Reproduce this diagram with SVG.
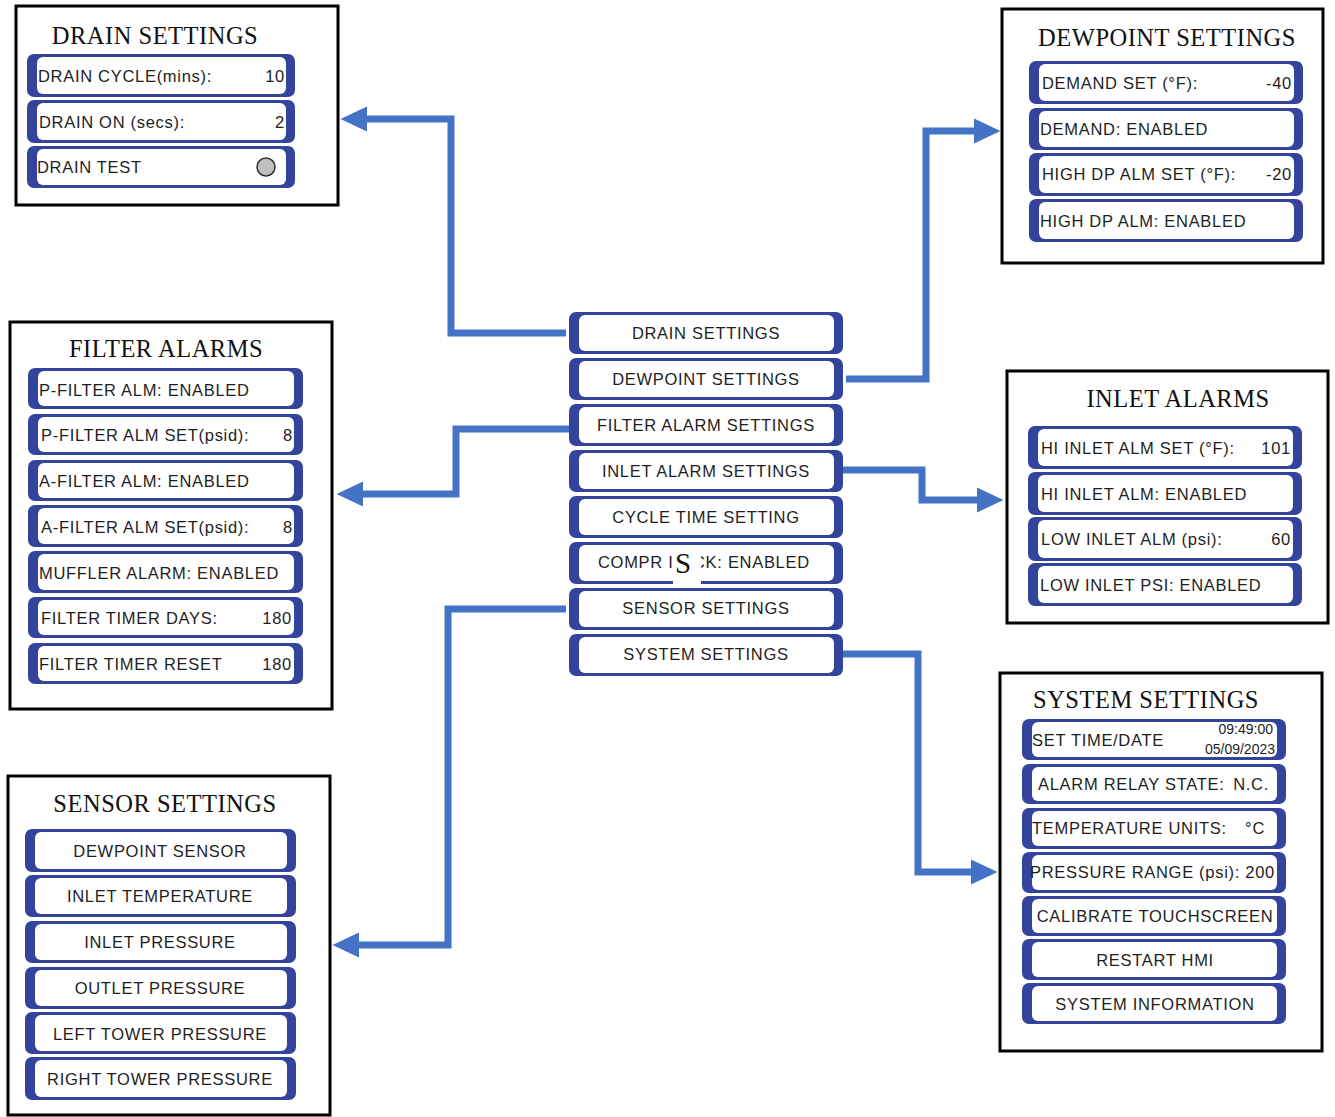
<svg xmlns="http://www.w3.org/2000/svg" width="1335" height="1117" viewBox="0 0 1335 1117">
<style>
.panel{fill:#fff;stroke:#000;stroke-width:3}
.bo{fill:#34449c}
.bi{fill:#fff}
.t{font-family:"Liberation Sans",Arial,sans-serif;font-size:16.5px;fill:#1e1e1e;letter-spacing:0.7px}
.c{text-anchor:middle}
.e{text-anchor:end}
.h{font-family:"Liberation Serif","Times New Roman",serif;font-size:24.5px;fill:#111;text-anchor:middle;letter-spacing:0.5px}
.conn{fill:none;stroke:#4472c4;stroke-width:7;stroke-linejoin:miter}
</style>
<defs>
<marker id="ah" viewBox="0 -13 27 26" refX="0" refY="0" markerWidth="27" markerHeight="26" markerUnits="userSpaceOnUse" orient="auto">
<path d="M0,-12.5 L26.5,0 L0,12.5 Z" fill="#4472c4"/>
</marker>
</defs>
<rect width="1335" height="1117" fill="#fff"/>

<g id="connectors">
<polyline class="conn" points="566,333 451,333 451,119 367,119" marker-end="url(#ah)"/>
<polyline class="conn" points="846,379 926,379 926,131 974,131" marker-end="url(#ah)"/>
<polyline class="conn" points="571,429 456,429 456,494 363,494" marker-end="url(#ah)"/>
<polyline class="conn" points="842,470 922,470 922,500 977,500" marker-end="url(#ah)"/>
<polyline class="conn" points="566,609 448,609 448,945 359,945" marker-end="url(#ah)"/>
<polyline class="conn" points="842,654 918,654 918,872 971,872" marker-end="url(#ah)"/>
</g>

<g id="drain-settings">
<rect class="panel" x="16" y="6" width="322" height="199"/>
<text class="h" x="155" y="44">DRAIN SETTINGS</text>
<rect class="bo" x="27" y="54" width="268" height="43" rx="7"/><rect class="bi" x="37" y="57" width="249" height="37" rx="6"/>
<text class="t" x="38" y="82">DRAIN CYCLE(mins):</text><text class="t e" x="285" y="82">10</text>
<rect class="bo" x="27" y="100" width="268" height="43" rx="7"/><rect class="bi" x="37" y="103" width="249" height="37" rx="6"/>
<text class="t" x="39" y="128">DRAIN ON (secs):</text><text class="t e" x="285" y="128">2</text>
<rect class="bo" x="27" y="146" width="268" height="42" rx="7"/><rect class="bi" x="37" y="149" width="249" height="36" rx="6"/>
<text class="t" x="37" y="173">DRAIN TEST</text>
<circle cx="266" cy="167" r="9" fill="#c0c0c0" stroke="#333" stroke-width="1.5"/>
</g>

<g id="dewpoint-settings">
<rect class="panel" x="1002" y="9" width="321" height="254"/>
<text class="h" x="1167" y="46">DEWPOINT SETTINGS</text>
<rect class="bo" x="1029" y="61" width="274" height="43" rx="7"/><rect class="bi" x="1039" y="64" width="255" height="37" rx="6"/>
<text class="t" x="1042" y="89">DEMAND SET (°F):</text><text class="t e" x="1292" y="89">-40</text>
<rect class="bo" x="1029" y="108" width="274" height="42" rx="7"/><rect class="bi" x="1039" y="111" width="255" height="36" rx="6"/>
<text class="t" x="1040" y="135">DEMAND: ENABLED</text>
<rect class="bo" x="1029" y="153" width="274" height="43" rx="7"/><rect class="bi" x="1039" y="156" width="255" height="37" rx="6"/>
<text class="t" x="1042" y="180">HIGH DP ALM SET (°F):</text><text class="t e" x="1292" y="180">-20</text>
<rect class="bo" x="1029" y="199" width="274" height="43" rx="7"/><rect class="bi" x="1039" y="202" width="255" height="37" rx="6"/>
<text class="t" x="1040" y="227">HIGH DP ALM: ENABLED</text>
</g>

<g id="main-menu">
<rect class="bo" x="569" y="312" width="274" height="42" rx="7"/><rect class="bi" x="579" y="315" width="255" height="36" rx="6"/>
<text class="t c" x="706" y="339">DRAIN SETTINGS</text>
<rect class="bo" x="569" y="358" width="274" height="42" rx="7"/><rect class="bi" x="579" y="361" width="255" height="36" rx="6"/>
<text class="t c" x="706" y="385">DEWPOINT SETTINGS</text>
<rect class="bo" x="569" y="404" width="274" height="42" rx="7"/><rect class="bi" x="579" y="407" width="255" height="36" rx="6"/>
<text class="t c" x="706" y="431">FILTER ALARM SETTINGS</text>
<rect class="bo" x="569" y="450" width="274" height="42" rx="7"/><rect class="bi" x="579" y="453" width="255" height="36" rx="6"/>
<text class="t c" x="706" y="477">INLET ALARM SETTINGS</text>
<rect class="bo" x="569" y="496" width="274" height="42" rx="7"/><rect class="bi" x="579" y="499" width="255" height="36" rx="6"/>
<text class="t c" x="706" y="523">CYCLE TIME SETTING</text>
<rect class="bo" x="569" y="542" width="274" height="42" rx="7"/><rect class="bi" x="579" y="545" width="255" height="36" rx="6"/>
<text class="t" x="598" y="568">COMPR I</text>
<text class="t" x="693" y="568">CK: ENABLED</text>
<rect x="673" y="548" width="28" height="37" fill="#fff"/>
<text x="683" y="573" font-family="'Liberation Serif','Times New Roman',serif" font-size="29px" fill="#111" text-anchor="middle">S</text>
<rect class="bo" x="569" y="588" width="274" height="42" rx="7"/><rect class="bi" x="579" y="591" width="255" height="36" rx="6"/>
<text class="t c" x="706" y="614">SENSOR SETTINGS</text>
<rect class="bo" x="569" y="634" width="274" height="42" rx="7"/><rect class="bi" x="579" y="637" width="255" height="36" rx="6"/>
<text class="t c" x="706" y="660">SYSTEM SETTINGS</text>
</g>

<g id="filter-alarms">
<rect class="panel" x="10" y="322" width="322" height="387"/>
<text class="h" x="166" y="357">FILTER ALARMS</text>
<rect class="bo" x="28" y="368" width="275" height="41" rx="7"/><rect class="bi" x="38" y="371" width="256" height="35" rx="6"/>
<text class="t" x="39" y="396">P-FILTER ALM: ENABLED</text>
<rect class="bo" x="28" y="414" width="275" height="41" rx="7"/><rect class="bi" x="38" y="417" width="256" height="35" rx="6"/>
<text class="t" x="41" y="441">P-FILTER ALM SET(psid):</text><text class="t e" x="293" y="441">8</text>
<rect class="bo" x="28" y="460" width="275" height="41" rx="7"/><rect class="bi" x="38" y="463" width="256" height="35" rx="6"/>
<text class="t" x="39" y="487">A-FILTER ALM: ENABLED</text>
<rect class="bo" x="28" y="505" width="275" height="42" rx="7"/><rect class="bi" x="38" y="508" width="256" height="36" rx="6"/>
<text class="t" x="41" y="533">A-FILTER ALM SET(psid):</text><text class="t e" x="293" y="533">8</text>
<rect class="bo" x="28" y="551" width="275" height="42" rx="7"/><rect class="bi" x="38" y="554" width="256" height="36" rx="6"/>
<text class="t" x="39" y="579">MUFFLER ALARM: ENABLED</text>
<rect class="bo" x="28" y="597" width="275" height="41" rx="7"/><rect class="bi" x="38" y="600" width="256" height="35" rx="6"/>
<text class="t" x="41" y="624">FILTER TIMER DAYS:</text><text class="t e" x="292" y="624">180</text>
<rect class="bo" x="28" y="643" width="275" height="41" rx="7"/><rect class="bi" x="38" y="646" width="256" height="35" rx="6"/>
<text class="t" x="39" y="670">FILTER TIMER RESET</text><text class="t e" x="292" y="670">180</text>
</g>

<g id="inlet-alarms">
<rect class="panel" x="1007" y="371" width="321" height="252"/>
<text class="h" x="1178" y="407">INLET ALARMS</text>
<rect class="bo" x="1028" y="426" width="274" height="43" rx="7"/><rect class="bi" x="1038" y="429" width="255" height="37" rx="6"/>
<text class="t" x="1041" y="454">HI INLET ALM SET (°F):</text><text class="t e" x="1291" y="454">101</text>
<rect class="bo" x="1028" y="472" width="274" height="43" rx="7"/><rect class="bi" x="1038" y="475" width="255" height="37" rx="6"/>
<text class="t" x="1041" y="500">HI INLET ALM: ENABLED</text>
<rect class="bo" x="1028" y="517" width="274" height="44" rx="7"/><rect class="bi" x="1038" y="520" width="255" height="38" rx="6"/>
<text class="t" x="1041" y="545">LOW INLET ALM (psi):</text><text class="t e" x="1291" y="545">60</text>
<rect class="bo" x="1028" y="563" width="274" height="43" rx="7"/><rect class="bi" x="1038" y="566" width="255" height="37" rx="6"/>
<text class="t" x="1040" y="591">LOW INLET PSI: ENABLED</text>
</g>

<g id="sensor-settings">
<rect class="panel" x="8" y="776" width="322" height="339"/>
<text class="h" x="165" y="812">SENSOR SETTINGS</text>
<rect class="bo" x="25" y="829" width="271" height="43" rx="7"/><rect class="bi" x="35" y="832" width="252" height="37" rx="6"/>
<text class="t c" x="160" y="857">DEWPOINT SENSOR</text>
<rect class="bo" x="25" y="875" width="271" height="42" rx="7"/><rect class="bi" x="35" y="878" width="252" height="36" rx="6"/>
<text class="t c" x="160" y="902">INLET TEMPERATURE</text>
<rect class="bo" x="25" y="921" width="271" height="42" rx="7"/><rect class="bi" x="35" y="924" width="252" height="36" rx="6"/>
<text class="t c" x="160" y="948">INLET PRESSURE</text>
<rect class="bo" x="25" y="967" width="271" height="42" rx="7"/><rect class="bi" x="35" y="970" width="252" height="36" rx="6"/>
<text class="t c" x="160" y="994">OUTLET PRESSURE</text>
<rect class="bo" x="25" y="1012" width="271" height="42" rx="7"/><rect class="bi" x="35" y="1015" width="252" height="36" rx="6"/>
<text class="t c" x="160" y="1040">LEFT TOWER PRESSURE</text>
<rect class="bo" x="25" y="1057" width="271" height="43" rx="7"/><rect class="bi" x="35" y="1060" width="252" height="37" rx="6"/>
<text class="t c" x="160" y="1085">RIGHT TOWER PRESSURE</text>
</g>

<g id="system-settings">
<rect class="panel" x="1000" y="673" width="322" height="378"/>
<text class="h" x="1146" y="708">SYSTEM SETTINGS</text>
<rect class="bo" x="1022" y="719" width="264" height="41" rx="7"/><rect class="bi" x="1032" y="722" width="245" height="35" rx="6"/>
<text class="t" x="1032" y="746">SET TIME/DATE</text>
<text class="t e" x="1273" y="734" style="font-size:14px;letter-spacing:0">09:49:00</text>
<text class="t e" x="1275" y="754" style="font-size:14px;letter-spacing:0">05/09/2023</text>
<rect class="bo" x="1022" y="764" width="264" height="40" rx="7"/><rect class="bi" x="1032" y="767" width="245" height="34" rx="6"/>
<text class="t" x="1038" y="790">ALARM RELAY STATE:</text><text class="t e" x="1269" y="790">N.C.</text>
<rect class="bo" x="1022" y="808" width="264" height="41" rx="7"/><rect class="bi" x="1032" y="811" width="245" height="35" rx="6"/>
<text class="t" x="1032" y="834">TEMPERATURE UNITS:</text><text class="t e" x="1265" y="834">°C</text>
<rect class="bo" x="1022" y="852" width="264" height="41" rx="7"/><rect class="bi" x="1032" y="855" width="245" height="35" rx="6"/>
<text class="t" x="1030" y="878">PRESSURE RANGE (psi):</text><text class="t e" x="1275" y="878">200</text>
<rect class="bo" x="1022" y="896" width="264" height="40" rx="7"/><rect class="bi" x="1032" y="899" width="245" height="34" rx="6"/>
<text class="t c" x="1155" y="922">CALIBRATE TOUCHSCREEN</text>
<rect class="bo" x="1022" y="939" width="264" height="41" rx="7"/><rect class="bi" x="1032" y="942" width="245" height="35" rx="6"/>
<text class="t c" x="1155" y="966">RESTART HMI</text>
<rect class="bo" x="1022" y="983" width="264" height="41" rx="7"/><rect class="bi" x="1032" y="986" width="245" height="35" rx="6"/>
<text class="t c" x="1155" y="1010">SYSTEM INFORMATION</text>
</g>
</svg>
